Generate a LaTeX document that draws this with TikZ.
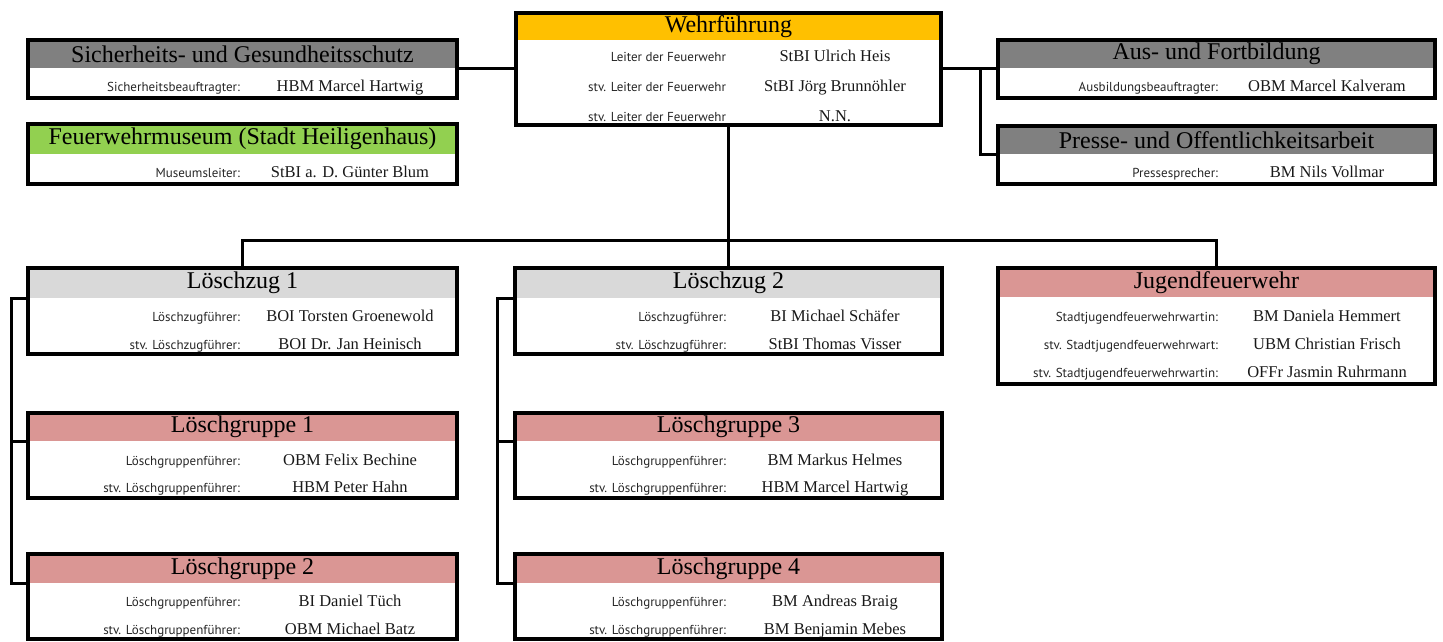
\documentclass[tikz,border=0pt]{standalone}
\usepackage{fontspec}
\newfontfamily\lblfont{PT Sans}
\newfontfamily\whofont{Liberation Serif}
\definecolor{wfyellow}{HTML}{FFC000}
\definecolor{hdgray}{HTML}{808080}
\definecolor{hdgreen}{HTML}{92D050}
\definecolor{hdlight}{HTML}{D9D9D9}
\definecolor{hdrose}{HTML}{DA9694}

\begin{document}
\begin{tikzpicture}[x=1pt,y=-1pt]
	\tikzstyle{every node}+=[inner sep=0pt, outer sep=0pt]
	\tikzstyle{head}=[anchor=north west, font=\whofont\fontsize{24}{27}\selectfont]
	\tikzstyle{frame}=[draw=black, line width=3.5pt, anchor=north west]
	\tikzstyle{lbl}=[anchor=base east, font=\lblfont\fontsize{13}{15}\selectfont, text=black!85]
	\tikzstyle{who}=[anchor=base, font=\whofont\fontsize{16.5}{19}\selectfont, text=black!90]
	\tikzstyle{link}=[line width=3pt]
	\useasboundingbox (0,0) rectangle (1443,641);
	% Wehrfuehrung
	\node[head, fill=wfyellow, minimum width=425pt, minimum height=27pt] (wfh) at (516,13) {Wehrführung};
	\node[frame, minimum width=425pt, minimum height=112pt] (wf) at (516,13) {};
	\node[lbl] at (726,61) {Leiter der Feuerwehr};
	\node[who] at (835,61) {StBI Ulrich Heis};
	\node[lbl] at (726,91) {stv. Leiter der Feuerwehr};
	\node[who] at (835,91) {StBI Jörg Brunnöhler};
	\node[lbl] at (726,121) {stv. Leiter der Feuerwehr};
	\node[who] at (835,121) {N.N.};
	% Stab links
	\node[head, fill=hdgray, minimum width=429pt, minimum height=28pt] (sgh) at (28,40) {Sicherheits- und Gesundheitsschutz};
	\node[frame, minimum width=429pt, minimum height=58pt] (sg) at (28,40) {};
	\node[lbl] at (240,91) {Sicherheitsbeauftragter:};
	\node[who] at (350,91) {HBM Marcel Hartwig};
	\node[head, fill=hdgreen, minimum width=429pt, minimum height=30pt] (fmh) at (28,124) {Feuerwehrmuseum (Stadt Heiligenhaus)};
	\node[frame, minimum width=429pt, minimum height=60pt] (fm) at (28,124) {};
	\node[lbl] at (240,177) {Museumsleiter:};
	\node[who] at (350,177) {StBI a. D. Günter Blum};
	% Stab rechts
	\node[head, fill=hdgray, minimum width=437pt, minimum height=28pt] (afh) at (998,40) {Aus- und Fortbildung};
	\node[frame, minimum width=437pt, minimum height=58pt] (af) at (998,40) {};
	\node[lbl] at (1218,91) {Ausbildungsbeauftragter:};
	\node[who] at (1327,91) {OBM Marcel Kalveram};
	\node[head, fill=hdgray, minimum width=437pt, minimum height=28pt] (poh) at (998,126) {Presse- und Offentlichkeitsarbeit};
	\node[frame, minimum width=437pt, minimum height=58pt] (po) at (998,126) {};
	\node[lbl] at (1218,177) {Pressesprecher:};
	\node[who] at (1327,177) {BM Nils Vollmar};
	% Loeschzuege
	\node[head, fill=hdlight, minimum width=429pt, minimum height=30pt] (lz1h) at (28,268) {Löschzug 1};
	\node[frame, minimum width=429pt, minimum height=86pt] (lz1) at (28,268) {};
	\node[lbl] at (240,321) {Löschzugführer:};
	\node[who] at (350,321) {BOI Torsten Groenewold};
	\node[lbl] at (240,349) {stv. Löschzugführer:};
	\node[who] at (350,349) {BOI Dr. Jan Heinisch};
	\node[head, fill=hdlight, minimum width=427pt, minimum height=30pt] (lz2h) at (515,268) {Löschzug 2};
	\node[frame, minimum width=427pt, minimum height=86pt] (lz2) at (515,268) {};
	\node[lbl] at (726,321) {Löschzugführer:};
	\node[who] at (835,321) {BI Michael Schäfer};
	\node[lbl] at (726,349) {stv. Löschzugführer:};
	\node[who] at (835,349) {StBI Thomas Visser};
	% Jugendfeuerwehr
	\node[head, fill=hdrose, minimum width=437pt, minimum height=29pt] (jfh) at (998,268) {Jugendfeuerwehr};
	\node[frame, minimum width=437pt, minimum height=116pt] (jf) at (998,268) {};
	\node[lbl] at (1218,321) {Stadtjugendfeuerwehrwartin:};
	\node[who] at (1327,321) {BM Daniela Hemmert};
	\node[lbl] at (1218,349) {stv. Stadtjugendfeuerwehrwart:};
	\node[who] at (1327,349) {UBM Christian Frisch};
	\node[lbl] at (1218,377) {stv. Stadtjugendfeuerwehrwartin:};
	\node[who] at (1327,377) {OFFr Jasmin Ruhrmann};
	% Loeschgruppen
	\node[head, fill=hdrose, minimum width=429pt, minimum height=28pt] (lg1h) at (28,413) {Löschgruppe 1};
	\node[frame, minimum width=429pt, minimum height=85pt] (lg1) at (28,413) {};
	\node[lbl] at (240,465) {Löschgruppenführer:};
	\node[who] at (350,465) {OBM Felix Bechine};
	\node[lbl] at (240,492) {stv. Löschgruppenführer:};
	\node[who] at (350,492) {HBM Peter Hahn};
	\node[head, fill=hdrose, minimum width=429pt, minimum height=29pt] (lg2h) at (28,554) {Löschgruppe 2};
	\node[frame, minimum width=429pt, minimum height=85pt] (lg2) at (28,554) {};
	\node[lbl] at (240,606) {Löschgruppenführer:};
	\node[who] at (350,606) {BI Daniel Tüch};
	\node[lbl] at (240,634) {stv. Löschgruppenführer:};
	\node[who] at (350,634) {OBM Michael Batz};
	\node[head, fill=hdrose, minimum width=427pt, minimum height=28pt] (lg3h) at (515,413) {Löschgruppe 3};
	\node[frame, minimum width=427pt, minimum height=85pt] (lg3) at (515,413) {};
	\node[lbl] at (726,465) {Löschgruppenführer:};
	\node[who] at (835,465) {BM Markus Helmes};
	\node[lbl] at (726,492) {stv. Löschgruppenführer:};
	\node[who] at (835,492) {HBM Marcel Hartwig};
	\node[head, fill=hdrose, minimum width=427pt, minimum height=29pt] (lg4h) at (515,554) {Löschgruppe 4};
	\node[frame, minimum width=427pt, minimum height=85pt] (lg4) at (515,554) {};
	\node[lbl] at (726,606) {Löschgruppenführer:};
	\node[who] at (835,606) {BM Andreas Braig};
	\node[lbl] at (726,634) {stv. Löschgruppenführer:};
	\node[who] at (835,634) {BM Benjamin Mebes};
	% Verbindungen
	\draw[link] (sgh.south east) -- (sgh.south east -| wf.west);
	\draw[link] (afh.south west) -- (afh.south west -| wf.east);
	\draw[link] (poh.south west) -- ++(-18,0) |- (afh.south west);
	\draw[link] (wf.south) -- ++(0,115) coordinate (hub);
	\draw[link] (lz1.north) |- (hub) -| (jf.north);
	\draw[link] (hub) -- (lz2.north);
	\draw[link] (lz1h.south west) -- ++(-17,0) |- (lg2h.south west);
	\draw[link] (lg1h.south west) -- ++(-17,0);
	\draw[link] (lz2h.south west) -- ++(-18,0) |- (lg4h.south west);
	\draw[link] (lg3h.south west) -- ++(-18,0);
\end{tikzpicture}
\end{document}
